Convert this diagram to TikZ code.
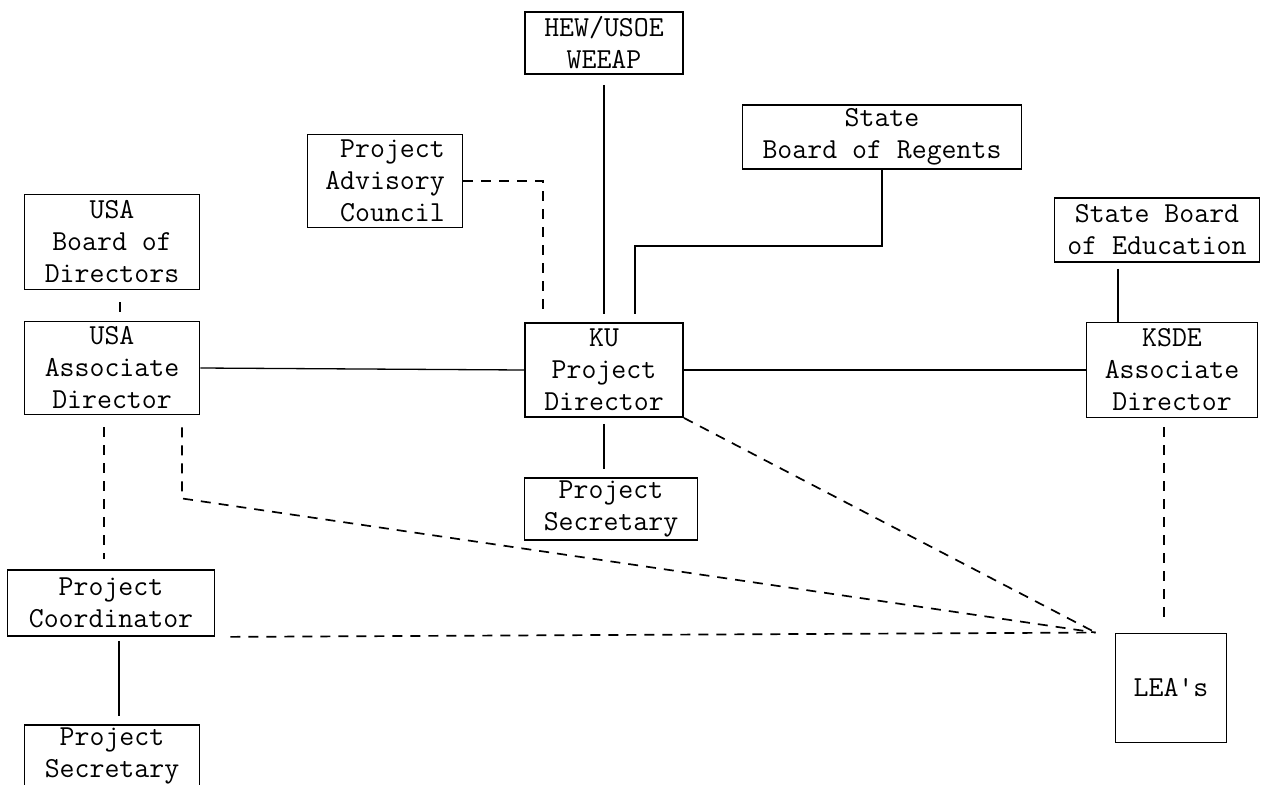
\documentclass[tikz,border=0pt]{standalone}
\usetikzlibrary{positioning,calc}

\begin{document}
\begin{tikzpicture}[
	x=1pt, y=-1pt,
	box/.style = {rectangle, draw, line width=1.9pt, inner sep=0pt,
		align=center, font=\ttfamily\fontsize{29}{32}\selectfont},
	link/.style = {line width=1.3pt},
	dashlink/.style = {line width=1.7pt, dash pattern=on 10pt off 8pt},
	]
	\useasboundingbox (0,0) rectangle (1270,785);

	% top row
	\node[box, minimum width=158, minimum height=62] (hew) at (604,43) {HEW/USOE\\WEEAP};
	\node[box, minimum width=279, minimum height=64] (regents) at (882,137) {State\\Board of Regents};
	\node[box, minimum width=155, minimum height=93, align=right] (council) at (385,181) {Project\\Advisory\\Council};
	\node[box, minimum width=175, minimum height=95] (usaboard) at (112,242) {USA\\Board of\\Directors};
	\node[box, minimum width=205, minimum height=64] (edboard) at (1157,230) {State Board\\of Education};

	% directors
	\node[box, minimum width=175, minimum height=93] (usaassoc) at (112,368) {USA\\Associate\\Director};
	\node[box, minimum width=158, minimum height=94] (ku) at (604,370) {KU\\Project\\Director};
	\node[box, minimum width=171, minimum height=95] (ksde) at (1172,370) {KSDE\\Associate\\Director};

	% lower part
	\node[box, minimum width=173, minimum height=62] (kusec) at (611,509) {Project\\Secretary};
	\node[box, minimum width=207, minimum height=66] (coord) at (111,603) {Project\\Coordinator};
	\node[box, minimum width=175, minimum height=62] (sec) at (112,756) {Project\\Secretary};
	\node[box, minimum width=111, minimum height=109] (leas) at (1171,688) {LEA\textquotesingle s};

	\coordinate (meet) at ($(leas.north west)+(-19,0)$);

	% solid links
	\draw[link, shorten <=10pt, shorten >=8pt] (hew.south) -- (ku.north);
	\draw[link, shorten >=8pt] (regents.south) -- ++(0,76) -| ([xshift=31pt]ku.north);
	\draw[link, shorten <=12pt, shorten >=9pt] ([xshift=8pt]usaboard.south) -- ([xshift=8pt]usaassoc.north);
	\draw[link] (usaassoc.east) -- (ku.west);
	\draw[link] (ku.east) -- (ksde.west);
	\draw[link, shorten <=6pt] ([xshift=-39pt]edboard.south) -- ([xshift=-39pt]edboard.south |- ksde.north);
	\draw[link, shorten <=6pt, shorten >=8pt] (ku.south) -- (ku.south |- kusec.north);
	\draw[link, shorten <=4pt, shorten >=8pt] ([xshift=8pt]coord.south) -- ([xshift=8pt]coord.south |- sec.north);

	% dashed links
	\draw[dashlink, shorten >=8pt] (council.east) -| ([xshift=-61pt]ku.north);
	\draw[dashlink] (ku.south east) -- (meet);
	\draw[dashlink, shorten <=12pt] ([xshift=70pt]usaassoc.south) -- ++(0,83) -- (meet);
	\draw[dashlink, shorten <=12pt, shorten >=10pt] ([xshift=-8pt]usaassoc.south) -- ([xshift=-8pt]usaassoc.south |- coord.north);
	\draw[dashlink, shorten <=15pt] (coord.south east) -- (meet);
	\draw[dashlink, shorten <=9pt, shorten >=12pt] ([xshift=-8pt]ksde.south) -- ([xshift=-8pt]ksde.south |- leas.north);
\end{tikzpicture}
\end{document}
